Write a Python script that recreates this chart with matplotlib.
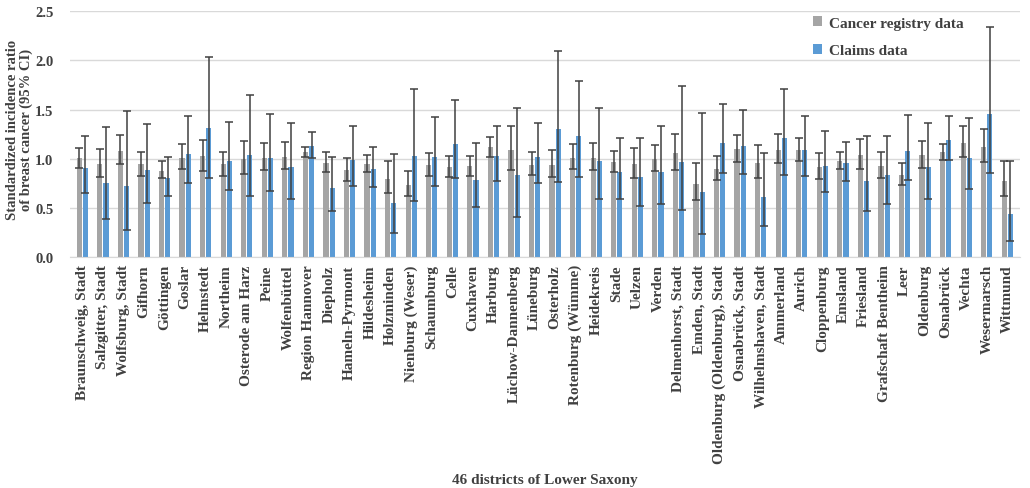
import numpy as np
import matplotlib.pyplot as plt

districts = ["Braunschweig, Stadt", "Salzgitter, Stadt", "Wolfsburg, Stadt", "Gifhorn",
             "Göttingen", "Goslar", "Helmstedt", "Northeim", "Osterode am Harz", "Peine",
             "Wolfenbüttel", "Region Hannover", "Diepholz", "Hameln-Pyrmont", "Hildesheim",
             "Holzminden", "Nienburg (Weser)", "Schaumburg", "Celle", "Cuxhaven", "Harburg",
             "Lüchow-Dannenberg", "Lüneburg", "Osterholz", "Rotenburg (Wümme)", "Heidekreis",
             "Stade", "Uelzen", "Verden", "Delmenhorst, Stadt", "Emden, Stadt",
             "Oldenburg (Oldenburg), Stadt", "Osnabrück, Stadt", "Wilhelmshaven, Stadt",
             "Ammerland", "Aurich", "Cloppenburg", "Emsland", "Friesland", "Grafschaft Bentheim",
             "Leer", "Oldenburg", "Osnabrück", "Vechta", "Wesermarsch", "Wittmund"]

# cancer registry data: SIR with 95% CI
reg = [1.005, 0.95, 1.08, 0.944, 0.88, 1.01, 1.025, 0.944, 1.0, 1.01,
       1.02, 1.066, 0.958, 0.887, 0.948, 0.795, 0.734, 0.937, 0.917, 0.924,
       1.117, 1.086, 0.94, 0.94, 1.01, 1.01, 0.968, 0.948, 1.0, 1.056,
       0.748, 0.893, 1.10, 0.961, 1.093, 1.09, 0.92, 0.978, 1.036, 0.924,
       0.832, 1.036, 1.069, 1.161, 1.124, 0.778]
reg_lo = [0.91, 0.81, 0.95, 0.83, 0.80, 0.90, 0.876, 0.822, 0.85, 0.89,
          0.893, 1.015, 0.866, 0.778, 0.87, 0.653, 0.626, 0.826, 0.812, 0.829,
          1.022, 0.89, 0.839, 0.819, 0.90, 0.89, 0.87, 0.805, 0.88, 0.89,
          0.579, 0.785, 0.971, 0.805, 0.954, 0.978, 0.795, 0.897, 0.893, 0.809,
          0.73, 0.91, 0.988, 1.019, 0.964, 0.619]
reg_hi = [1.11, 1.10, 1.245, 1.066, 0.98, 1.15, 1.195, 1.07, 1.18, 1.164,
          1.17, 1.124, 1.07, 1.008, 1.042, 0.975, 0.873, 1.063, 1.032, 1.032,
          1.225, 1.33, 1.066, 1.09, 1.15, 1.157, 1.083, 1.113, 1.144, 1.252,
          0.958, 1.025, 1.245, 1.14, 1.252, 1.208, 1.063, 1.073, 1.198, 1.066,
          0.954, 1.184, 1.154, 1.337, 1.30, 0.975]

# claims data: SIR with 95% CI
clm = [0.907, 0.75, 0.72, 0.887, 0.80, 1.05, 1.313, 0.978, 1.042, 1.008,
       0.917, 1.134, 0.70, 0.992, 0.90, 0.548, 1.025, 1.019, 1.147, 0.782,
       1.025, 0.839, 1.019, 1.306, 1.235, 0.975, 0.863, 0.812, 0.866, 0.964,
       0.663, 1.161, 1.134, 0.613, 1.215, 1.093, 0.93, 0.961, 0.778, 0.832,
       1.076, 0.92, 1.188, 1.005, 1.452, 0.443]
clm_lo = [0.653, 0.386, 0.28, 0.555, 0.626, 0.755, 0.805, 0.684, 0.62, 0.677,
          0.592, 1.005, 0.467, 0.728, 0.717, 0.244, 0.575, 0.721, 0.805, 0.514,
          0.778, 0.413, 0.751, 0.761, 0.819, 0.596, 0.596, 0.525, 0.538, 0.484,
          0.24, 0.86, 0.849, 0.321, 0.836, 0.822, 0.66, 0.778, 0.47, 0.545,
          0.785, 0.592, 0.988, 0.69, 0.856, 0.162]
clm_hi = [1.235, 1.32, 1.49, 1.354, 1.02, 1.44, 2.037, 1.37, 1.648, 1.455,
          1.364, 1.276, 1.022, 1.333, 1.124, 1.052, 1.705, 1.428, 1.597, 1.161,
          1.333, 1.513, 1.364, 2.098, 1.79, 1.516, 1.21, 1.21, 1.333, 1.743,
          1.462, 1.553, 1.492, 1.056, 1.712, 1.431, 1.283, 1.174, 1.228, 1.228,
          1.445, 1.364, 1.431, 1.418, 2.335, 0.975]

plt.rcParams['font.family'] = ['Liberation Serif', 'DejaVu Serif']
plt.rcParams['font.weight'] = 'bold'
txt = '#404040'

x = np.arange(len(districts))
reg = np.array(reg); clm = np.array(clm)
reg_err = [reg - np.array(reg_lo), np.array(reg_hi) - reg]
clm_err = [clm - np.array(clm_lo), np.array(clm_hi) - clm]

fig = plt.figure(figsize=(10.3, 4.89), dpi=100)
ax = fig.add_axes([0.068, 0.472, 0.922, 0.503])
w = 0.25
ekw = dict(ecolor='#404040', elinewidth=1.1, capsize=2.6, capthick=1.1)
ax.bar(x - 0.15, reg, w, color='#A5A5A5', yerr=reg_err, error_kw=ekw,
       label='Cancer registry data', zorder=2)
ax.bar(x + 0.15, clm, w, color='#5B9BD5', yerr=clm_err, error_kw=ekw,
       label='Claims data', zorder=2)

ax.set_ylim(0, 2.5)
ax.set_xlim(-0.6, len(districts) - 0.4)
ax.set_yticks(np.arange(0, 2.51, 0.5))
ax.yaxis.set_major_formatter(plt.FormatStrFormatter('%.1f'))
ax.grid(axis='y', color='#D9D9D9', linewidth=1, zorder=0)
ax.set_axisbelow(True)
for s in ['top', 'right', 'left']:
    ax.spines[s].set_visible(False)
ax.spines['bottom'].set_color('#D9D9D9')
ax.tick_params(axis='both', length=0, colors=txt)
ax.tick_params(axis='y', pad=12, labelsize=10.5)
ax.tick_params(axis='x', pad=5, labelsize=11)
ax.set_xticks(x)
ax.set_xticklabels(districts, rotation=90, color=txt)

ax.set_ylabel('Standardized incidence ratio\nof breast cancer (95% CI)', fontsize=10.5,
              color=txt, fontweight='bold', linespacing=1.05)
ax.yaxis.set_label_coords(-0.039, 0.52)
ax.set_xlabel('46 districts of Lower Saxony', fontsize=11, color=txt,
              fontweight='bold', labelpad=7)

leg = ax.legend(loc='upper right', bbox_to_anchor=(0.955, 1.035), frameon=False,
                fontsize=11, handlelength=0.6, handleheight=0.6, handletextpad=0.4,
                labelspacing=0.95)
for t in leg.get_texts():
    t.set_color(txt)

fig.savefig('out.png', dpi=100)
